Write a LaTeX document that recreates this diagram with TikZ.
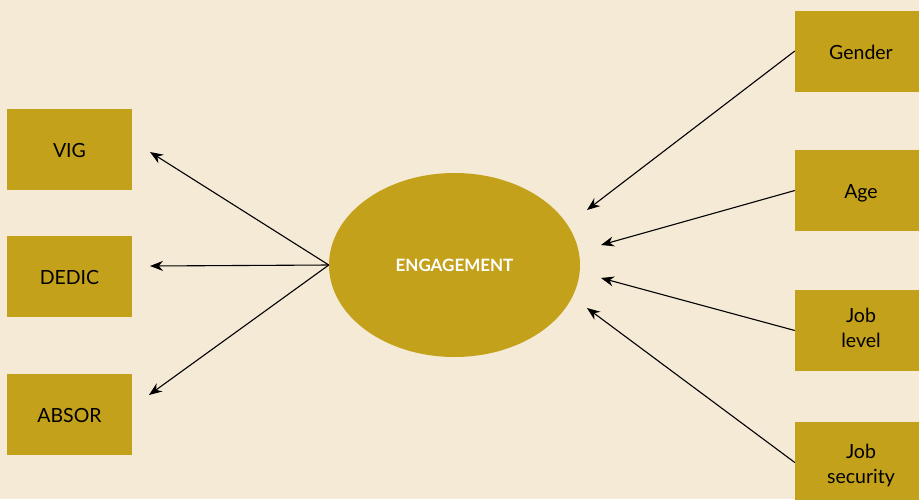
\documentclass[tikz,border=0pt]{standalone}
\usepackage{fontspec}
\setmainfont{Lato}
\usetikzlibrary{arrows.meta,shapes.geometric}
\definecolor{bg}{HTML}{F5EAD6}
\definecolor{gold}{HTML}{C4A11A}
\begin{document}
\begin{tikzpicture}[x=1pt,y=-1pt,
  box/.style={fill=gold,draw=none,minimum width=125pt,minimum height=81pt,inner sep=0pt,font=\fontsize{19.5}{25}\selectfont,align=center},
  oneline/.style={text height=20pt,text depth=4pt},
  arr/.style={-{Stealth[length=13pt,width=10pt]},line width=1.1pt,black}]
\fill[bg] (0,0) rectangle (919,499);
\useasboundingbox (0,0) rectangle (919,499);
\begin{scope}
\clip (0,0) rectangle (919,499);
\node[box,oneline] (vig) at (69.5,149.5) {VIG};
\node[box,oneline] (dedic) at (69.5,276) {DEDIC};
\node[box,oneline] (absor) at (69.5,414.5) {ABSOR};
\node[box,oneline,minimum width=132pt] (gender) at (861,51) {Gender};
\node[box,oneline,minimum width=132pt] (age) at (861,190.5) {Age};
\node[box,minimum width=132pt] (joblevel) at (861,330.5) {Job\\level\rule[-5pt]{0pt}{0pt}};
\node[box,minimum width=132pt] (jobsec) at (861,462.5) {\rule{0pt}{20pt}Job\\security};
\node[ellipse,fill=gold,minimum width=251pt,minimum height=184pt,inner sep=0pt,text=white,font=\bfseries\fontsize{17}{20}\selectfont] (eng) at (454.5,265) {ENGAGEMENT};
\end{scope}
\coordinate (tvig) at (150,152);
\coordinate (tdedic) at (150,266);
\coordinate (tabsor) at (149,395);
\coordinate (tgender) at (587,210);
\coordinate (tage) at (601,245);
\coordinate (tjl) at (601,278);
\coordinate (tjs) at (587,308);
\draw[arr] (eng.west) -- (tvig);
\draw[arr] (eng.west) -- (tdedic);
\draw[arr] (eng.west) -- (tabsor);
\draw[arr] (gender.west) -- (tgender);
\draw[arr] (age.west) -- (tage);
\draw[arr] (joblevel.west) -- (tjl);
\draw[arr] (jobsec.west) -- (tjs);
\end{tikzpicture}
\end{document}
